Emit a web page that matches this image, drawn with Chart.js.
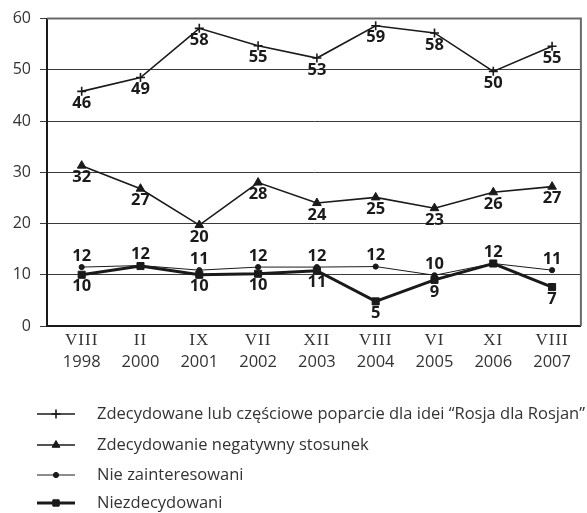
<!DOCTYPE html>
<html>
<head>
<meta charset="utf-8">
<script src="https://cdn.jsdelivr.net/npm/chart.js@4.4.0/dist/chart.umd.min.js"></script>
<style>
  html, body { margin: 0; padding: 0; background: #fff; }
  #c { display: block; }
</style>
</head>
<body>
<canvas id="c" width="587" height="513"></canvas>
<script>
// ---- data ----
const categoriesRoman = ['VIII', 'II', 'IX', 'VII', 'XII', 'VIII', 'VI', 'XI', 'VIII'];
const categoriesYear = ['1998', '2000', '2001', '2002', '2003', '2004', '2005', '2006', '2007'];
const yTicks = [0, 10, 20, 30, 40, 50, 60];

const seriesNames = [
  'Zdecydowane lub częściowe poparcie dla idei \u201CRosja dla Rosjan\u201D',
  'Zdecydowanie negatywny stosunek',
  'Nie zainteresowani',
  'Niezdecydowani'
];

const supportValues = [45.8, 48.5, 58.1, 54.7, 52.3, 58.6, 57.2, 49.7, 54.6];
const supportLabels = [46, 49, 58, 55, 53, 59, 58, 50, 55];

const negativeValues = [31.3, 26.8, 19.7, 28.0, 24.0, 25.1, 23.0, 26.1, 27.2];
const negativeLabels = [32, 27, 20, 28, 24, 25, 23, 26, 27];

const uninterestedValues = [11.5, 11.8, 10.9, 11.5, 11.5, 11.6, 9.9, 12.2, 10.9];
const uninterestedLabels = [12, 12, 11, 12, 12, 12, 10, 12, 11];

const undecidedValues = [10.0, 11.7, 10.0, 10.2, 10.8, 4.8, 9.0, 12.2, 7.6];
const undecidedLabels = [10, null, 10, 10, 11, 5, 9, null, 7];

// ---- helpers ----
const INK = '#1a1a1a';
function toPoints(vals) { return vals.map((v, i) => ({ x: i, y: v })); }

const datasets = [
  { label: seriesNames[0], data: toPoints(supportValues), valueLabels: supportLabels, labelPos: 'below',
    borderColor: INK, backgroundColor: INK, borderWidth: 1.6, pointStyle: 'cross', pointRadius: 4.5, pointBorderWidth: 1.6 },
  { label: seriesNames[1], data: toPoints(negativeValues), valueLabels: negativeLabels, labelPos: 'below',
    borderColor: INK, backgroundColor: INK, borderWidth: 1.6, pointStyle: 'triangle', pointRadius: 5, pointBorderWidth: 1 },
  { label: seriesNames[2], data: toPoints(uninterestedValues), valueLabels: uninterestedLabels, labelPos: 'above',
    borderColor: INK, backgroundColor: INK, borderWidth: 1, pointStyle: 'circle', pointRadius: 2.6, pointBorderWidth: 1 },
  { label: seriesNames[3], data: toPoints(undecidedValues), valueLabels: undecidedLabels, labelPos: 'below',
    borderColor: INK, backgroundColor: INK, borderWidth: 3, pointStyle: 'rect', pointRadius: 5, pointBorderWidth: 1 }
];

const frameAndLabels = {
  id: 'frameAndLabels',
  beforeDatasetsDraw(chart) {
    const { ctx, chartArea: a } = chart;
    ctx.save();
    ctx.strokeStyle = '#6a6a6a';
    ctx.lineWidth = 2;
    ctx.beginPath();
    ctx.moveTo(a.left, a.top);
    ctx.lineTo(a.right, a.top);
    ctx.lineTo(a.right, a.bottom);
    ctx.stroke();
    ctx.restore();
  },
  afterDatasetsDraw(chart) {
    const { ctx } = chart;
    ctx.save();
    ctx.font = 'bold 16.5px "Open Sans", sans-serif';
    ctx.fillStyle = INK;
    ctx.textAlign = 'center';
    ctx.textBaseline = 'middle';
    chart.data.datasets.forEach((ds, di) => {
      const meta = chart.getDatasetMeta(di);
      meta.data.forEach((el, i) => {
        const lab = ds.valueLabels[i];
        if (lab === null || lab === undefined) return;
        const dy = ds.labelPos === 'above' ? -11 : 12;
        ctx.fillText(String(lab), el.x, el.y + dy);
      });
    });
    ctx.restore();
  },
  afterDraw(chart) {
    const { ctx, scales } = chart;
    const xs = scales.x;
    const bottom = chart.chartArea.bottom;
    ctx.save();
    ctx.fillStyle = '#333';
    ctx.textAlign = 'center';
    ctx.textBaseline = 'middle';
    categoriesRoman.forEach((r, i) => {
      const x = xs.getPixelForValue(i);
      ctx.font = '17px "Liberation Serif", serif';
      try { ctx.letterSpacing = '1px'; } catch (e) {}
      ctx.fillText(r, x, bottom + 15);
      try { ctx.letterSpacing = '0px'; } catch (e) {}
      ctx.font = '16.5px "Open Sans", sans-serif';
      ctx.fillText(categoriesYear[i], x, bottom + 36);
    });

    // legend
    const rows = [414, 445, 475, 503];
    chart.data.datasets.forEach((ds, di) => {
      const y = rows[di];
      ctx.strokeStyle = ds.borderColor;
      ctx.lineWidth = ds.borderWidth;
      ctx.beginPath();
      ctx.moveTo(37, y);
      ctx.lineTo(75, y);
      ctx.stroke();
      const opts = {
        pointStyle: ds.pointStyle,
        radius: ds.pointStyle === 'rect' ? 4.5 : (ds.pointStyle === 'triangle' ? 4.5 : ds.pointRadius),
        rotation: 0,
        borderWidth: ds.pointBorderWidth
      };
      ctx.fillStyle = ds.backgroundColor;
      ctx.strokeStyle = ds.borderColor;
      ctx.lineWidth = ds.pointBorderWidth;
      Chart.helpers.drawPoint(ctx, opts, 56, y);
      ctx.fillStyle = '#333';
      ctx.font = '16.5px "Open Sans", sans-serif';
      ctx.textAlign = 'left';
      ctx.textBaseline = 'middle';
      ctx.fillText(ds.label, 97, y);
    });
    ctx.restore();
  }
};

new Chart(document.getElementById('c'), {
  type: 'line',
  data: { datasets },
  options: {
    responsive: false,
    animation: false,
    devicePixelRatio: 1,
    layout: { padding: { top: 15, right: 2, left: 0, bottom: 0 } },
    plugins: { legend: { display: false }, tooltip: { enabled: false } },
    elements: { line: { tension: 0 } },
    scales: {
      x: {
        type: 'linear',
        min: -0.59,
        max: 8.49,
        ticks: { display: false },
        grid: { display: false, drawTicks: false },
        border: { display: true, color: INK, width: 2 },
        afterFit(scale) { scale.height = 187; }
      },
      y: {
        min: 0,
        max: 60,
        afterBuildTicks(scale) { scale.ticks = yTicks.map(v => ({ value: v })); },
        ticks: { color: '#333', font: { family: '"Open Sans", sans-serif', size: 16 }, padding: 9 },
        grid: { color: '#3a3a3a', lineWidth: 1, tickLength: 7, tickColor: '#3a3a3a' },
        border: { display: true, color: INK, width: 2 },
        afterFit(scale) { scale.width = 47; }
      }
    }
  },
  plugins: [frameAndLabels]
});
</script>
</body>
</html>
